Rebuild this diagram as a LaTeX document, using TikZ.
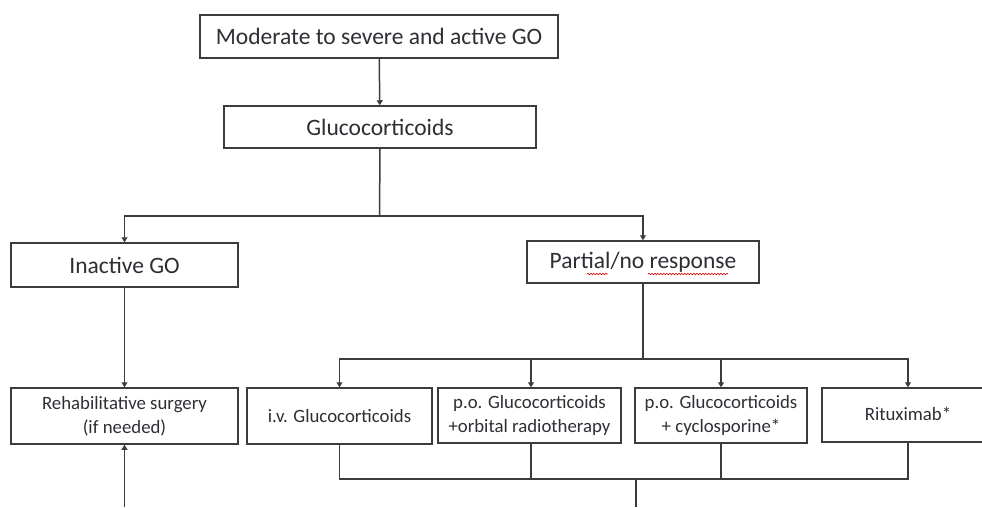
\documentclass[tikz,border=0pt]{standalone}
\usepackage{fontspec}
\setmainfont{Carlito}
\usetikzlibrary{arrows.meta,decorations.pathmorphing}
\definecolor{linec}{HTML}{3C3C3C}
\definecolor{textc}{HTML}{2E2E34}
\begin{document}
\begin{tikzpicture}[x=1pt,y=-1pt,
  box/.style={draw=linec,line width=1.5pt,inner sep=0pt,text=textc,align=center},
  bigbox/.style={box,font=\fontsize{23.5}{28}\selectfont},
  smallbox/.style={box,font=\fontsize{18.8}{24}\selectfont},
  conn/.style={draw=linec,line width=1.5pt},
  arr/.style={conn,-{Triangle[width=6pt,length=5pt]}},
  squig/.style={draw=red!85!black,line width=0.6pt,decorate,decoration={snake,amplitude=0.8pt,segment length=3pt}}]
\useasboundingbox (0,0) rectangle (982,507);
\clip (0,0) rectangle (982,507);
\fill[white] (0,0) rectangle (982,507);

\node[bigbox,minimum width=358pt,minimum height=43pt] (top) at (379,36.5) {Moderate to severe and active GO};
\node[bigbox,minimum width=312pt,minimum height=42pt] (gluco) at (380,127) {Glucocorticoids};
\node[bigbox,minimum width=227pt,minimum height=44pt] (inactive) at (124.5,265) {Inactive GO};
\node[bigbox,minimum width=232pt,minimum height=42pt] (partial) at (643,262) {Partial/no response};

\node[smallbox,minimum width=227pt,minimum height=56pt] (rehab) at (124.5,416) {Rehabilitative surgery\\(if needed)};
\node[smallbox,minimum width=185pt,minimum height=56pt] (iv) at (339.5,416) {i.v. Glucocorticoids};
\node[smallbox,minimum width=183pt,minimum height=55pt] (poorb) at (529.5,415.5) {p.o. Glucocorticoids\\+orbital radiotherapy};
\node[smallbox,minimum width=172pt,minimum height=55pt] (pocyc) at (721,415.5) {p.o. Glucocorticoids\\+ cyclosporine*};
\node[smallbox,minimum width=178pt,minimum height=54pt] (ritux) at (911,415) {};
\node[font=\fontsize{18.8}{24}\selectfont,text=textc,inner sep=0pt] (rituxt) at (908,414) {Rituximab*};

\coordinate (j1) at (379.5,216);
\coordinate (j2) at (643,359);
\coordinate (j3) at (636,479);
\coordinate (rx) at (908,0);
\coordinate (px) at (531,0);
\coordinate (bot) at (636,507);
\coordinate (rin) at (124.5,507);

\draw[arr] (top) -- (gluco);
\draw[conn] (gluco.south) -- (j1);
\draw[arr] (j1) -| (inactive.north);
\draw[arr] (j1) -| (partial.north);
\draw[arr] (inactive) -- (rehab);
\draw[conn] (partial.south) -- (j2);
\draw[arr] (j2) -| (iv.north);
\draw[arr] (j2) -| (poorb.north -| px);
\draw[arr] (j2) -| (pocyc.north);
\draw[arr] (j2) -| (ritux.north -| rx);

\draw[conn] (iv.south) |- (j3) -| (ritux.south -| rx);
\draw[conn] (poorb.south -| px) -- (j3 -| px);
\draw[conn] (pocyc.south) -- (j3 -| pocyc.south);
\draw[conn] (j3) -- (bot);
\draw[arr] (rin) -- (rehab.south);

\draw[squig] (587,274) -- (608,274);
\draw[squig] (648,274) -- (728,274);
\end{tikzpicture}
\end{document}
